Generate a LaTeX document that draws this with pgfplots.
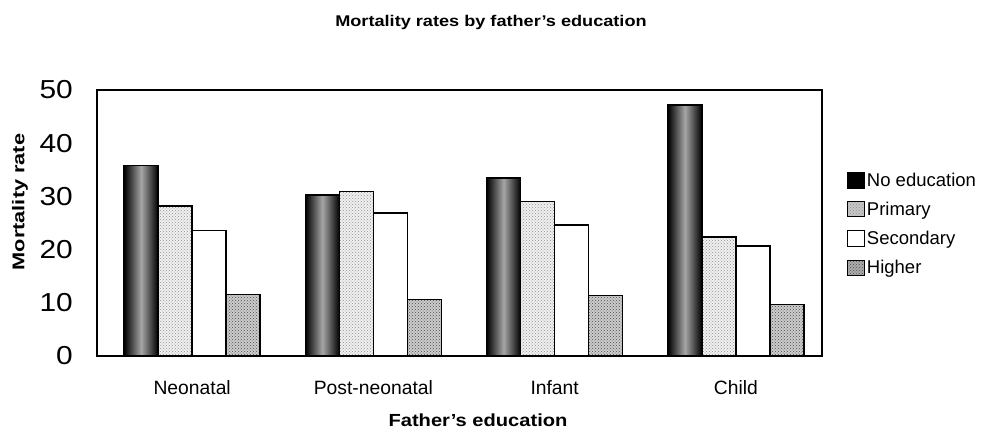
\documentclass[border=0pt]{standalone}
\usepackage{pgfplots}
\pgfplotsset{compat=1.18}
\usepackage{fontspec}
\setmainfont{Liberation Sans}
\usetikzlibrary{patterns}

\pgfplotsset{
  noed/.style={ybar, bar width=34pt, bar shift=-51pt, draw=black, line width=1.5pt,
    left color=black, right color=black, middle color=gray!70},
}

\begin{document}
\begin{tikzpicture}[x=1pt,y=1pt]
\useasboundingbox (0,0) rectangle (984,428);
\begin{axis}[
  at={(97pt,72pt)}, anchor=south west,
  scale only axis, width=725pt, height=266pt,
  xmin=-0.525, xmax=3.475, ymin=0, ymax=50,
  xtick={0,1,2,3}, xticklabels={Neonatal,Post-neonatal,Infant,Child},
  ytick={0,10,...,50},
  major tick length=0pt,
  /pgf/number format/assume math mode=true,
  yticklabel={\scalebox{1.15}[1]{\pgfmathprintnumber[assume math mode=true]{\tick}}},
  yticklabel style={font=\fontsize{26}{28}\selectfont, anchor=east, inner xsep=0pt, xshift=-24pt},
  xticklabel style={font=\fontsize{19.3}{22}\selectfont, anchor=base, yshift=-38pt},
  axis line style={line width=1.2pt, black},
  legend style={at={(1.03,0.70)}, anchor=north west, draw=none, fill=none,
    font=\fontsize{18.5}{20}\selectfont, row sep=13pt,
    nodes={inner xsep=1.5pt, inner ysep=0pt}},
  legend cell align=left,
]
\addplot[noed,
  legend image code/.code={\draw[left color=black, right color=black, middle color=black, draw=black] (0pt,-7.5pt) rectangle (17pt,7.5pt);}]
  coordinates {(0,35.8)};
\addlegendentry{No education}
\addplot[noed, forget plot] coordinates {(1,30.3)};
\addplot[noed, forget plot] coordinates {(2,33.5)};
\addplot[noed, forget plot] coordinates {(3,47.2)};
\addplot[ybar, bar width=34pt, bar shift=-17pt, draw=black, line width=1.5pt, fill=gray!12,
  postaction={pattern=crosshatch dots, pattern color=gray!85},
  legend image code/.code={\draw[fill=gray!45, draw=black, line width=1pt] (0pt,-7.5pt) rectangle (17pt,7.5pt);}]
  coordinates {(0,28.2) (1,30.9) (2,29.0) (3,22.4)};
\addlegendentry{Primary}
\addplot[ybar, bar width=34pt, bar shift=17pt, draw=black, line width=1.5pt, fill=white,
  legend image code/.code={\draw[fill=white, draw=black, line width=1pt] (0pt,-7.5pt) rectangle (17pt,7.5pt);}]
  coordinates {(0,23.6) (1,26.9) (2,24.6) (3,20.7)};
\addlegendentry{Secondary}
\addplot[ybar, bar width=34pt, bar shift=51pt, draw=black, line width=1.5pt, fill=gray!40,
  postaction={pattern=crosshatch dots, pattern color=black!70},
  legend image code/.code={\draw[fill=gray!65, draw=black, line width=1pt] (0pt,-7.5pt) rectangle (17pt,7.5pt);}]
  coordinates {(0,11.6) (1,10.6) (2,11.4) (3,9.7)};
\addlegendentry{Higher}
\end{axis}
\node[font=\bfseries\fontsize{15.5}{18}\selectfont] at (491,406) {\scalebox{1.17}[1]{Mortality rates by father's education}};
\node[font=\bfseries\fontsize{17.5}{20}\selectfont] at (478,8) {\scalebox{1.15}[1]{Father's education}};
\node[font=\bfseries\fontsize{17}{20}\selectfont, rotate=90] at (20,226) {\scalebox{1.28}[1]{Mortality rate}};
\end{tikzpicture}
\end{document}
